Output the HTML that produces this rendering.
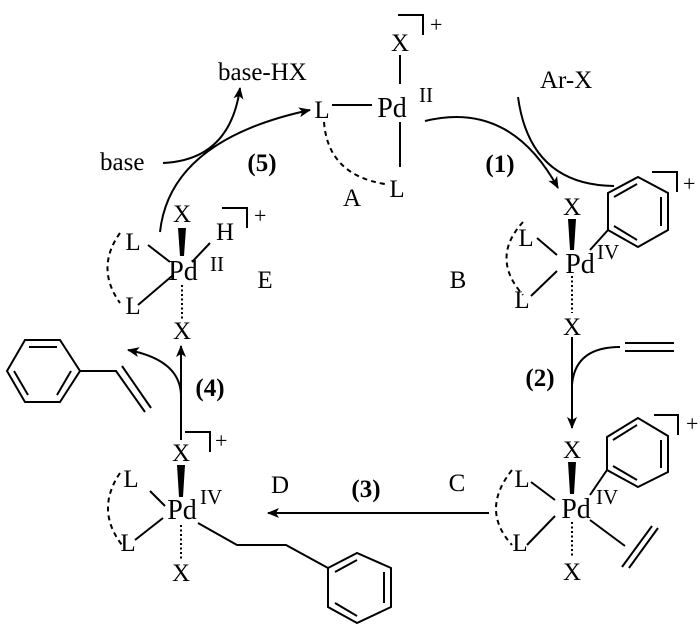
<!DOCTYPE html>
<html><head><meta charset="utf-8"><style>
html,body{margin:0;padding:0;background:#fff}
svg{display:block}
text{font-family:"Liberation Serif",serif;fill:#000}
.b{font-weight:bold}
.pd{font-size:28px}
.sup{font-size:21px}
.pl{font-size:22px}
</style></head><body>
<svg width="700" height="631" viewBox="0 0 700 631" xmlns="http://www.w3.org/2000/svg">
<defs>
<marker id="ar" markerWidth="12" markerHeight="10" refX="11" refY="5" orient="auto" markerUnits="userSpaceOnUse">
<path d="M0,0 L12,5 L0,10 L3,5 Z" fill="#000"/>
</marker>
</defs>
<g stroke="#000" stroke-width="2" fill="none">
<polyline points="398,15 423,15 423,35"/>
<line x1="400" y1="55" x2="400" y2="84"/>
<line x1="332" y1="105" x2="372" y2="105"/>
<line x1="400" y1="122" x2="400" y2="167"/>
<path d="M324,122 Q328,175 385,184" stroke-dasharray="5,4"/>
<path d="M425,121 Q510,100 558,188" marker-end="url(#ar)"/>
<path d="M518,97 Q530,185 614,186"/>
<polygon points="608,193 638,177 668,193 668,230 638,247 608,230"/>
<line x1="614" y1="197" x2="637" y2="184"/>
<line x1="661" y1="197" x2="661" y2="226"/>
<line x1="614" y1="226" x2="637" y2="240"/>
<polyline points="652,172 677,172 677,192"/>
<line x1="590" y1="250" x2="608" y2="230"/>
<line x1="537" y1="238" x2="557" y2="255"/>
<line x1="531" y1="296" x2="557" y2="271"/>
<path d="M523,222 Q490,258 523,295" stroke-dasharray="5,4"/>
<path d="M572,337 L572,428" marker-end="url(#ar)"/>
<path d="M572,385 Q575,347 620,347"/>
<line x1="625" y1="343" x2="674" y2="343"/>
<line x1="625" y1="351" x2="674" y2="351"/>
<polygon points="607,437 638,418 668,436 668,472 638,487 607,470"/>
<line x1="613" y1="440" x2="637" y2="425"/>
<line x1="661" y1="440" x2="661" y2="468"/>
<line x1="613" y1="466" x2="637" y2="480"/>
<polyline points="654,415 678,415 678,435"/>
<line x1="590" y1="495" x2="607" y2="470"/>
<line x1="531" y1="482" x2="555" y2="500"/>
<line x1="527" y1="545" x2="555" y2="516"/>
<line x1="590" y1="520" x2="625" y2="546"/>
<line x1="622" y1="567" x2="652" y2="526"/>
<line x1="629" y1="568" x2="658" y2="528"/>
<path d="M512,470 Q480,510 512,545" stroke-dasharray="5,4"/>
<path d="M489,513 L268,513" marker-end="url(#ar)"/>
<polyline points="185,432 210,432 210,452"/>
<line x1="150" y1="491" x2="165" y2="506"/>
<line x1="135" y1="540" x2="163" y2="518"/>
<polyline points="198,523 237,545 286,545 328,568"/>
<polygon points="328,568 357,553 391,568 391,607 357,623 328,607"/>
<line x1="335" y1="572" x2="357" y2="560"/>
<line x1="384" y1="572" x2="384" y2="603"/>
<line x1="335" y1="603" x2="357" y2="616"/>
<path d="M120,473 Q95,510 122,545" stroke-dasharray="5,4"/>
<path d="M181,440 L181,346" marker-end="url(#ar)"/>
<path d="M181,395 Q180,360 128,350" marker-end="url(#ar)"/>
<polygon points="7,371 25,340 60,340 80,371 60,402 25,402"/>
<line x1="29" y1="347" x2="57" y2="347"/>
<line x1="14" y1="371" x2="28" y2="395"/>
<line x1="57" y1="395" x2="71" y2="371"/>
<polyline points="80,371 116,371 145,412"/>
<line x1="122" y1="366" x2="151" y2="408"/>
<polyline points="222,208 247,208 247,228"/>
<line x1="148" y1="245" x2="170" y2="262"/>
<line x1="192" y1="262" x2="210" y2="243"/>
<line x1="138" y1="305" x2="172" y2="276"/>
<path d="M120,233 Q95,268 120,303" stroke-dasharray="5,4"/>
<path d="M160,232 Q170,140 310,110" marker-end="url(#ar)"/>
<path d="M163,163 Q230,160 240,88" marker-end="url(#ar)"/>
</g>
<g fill="#000">
<polygon points="568,219 576,219 574,250 570,250"/>
<polygon points="568,462 576,462 574,494 570,494"/>
<polygon points="177,465 185,465 183,497 179,497"/>
<polygon points="178,228 186,228 184,256 180,256"/>
</g>
<g stroke="#000" stroke-width="2" stroke-dasharray="2,2.5">
<line x1="572" y1="276" x2="572" y2="313"/>
<line x1="572" y1="522" x2="572" y2="557"/>
<line x1="181" y1="525" x2="181" y2="560"/>
<line x1="182" y1="285" x2="182" y2="320"/>
</g>
<g font-size="25">
<text x="400" y="51" text-anchor="middle">X</text>
<text x="430" y="32" class="pl">+</text>
<text x="392" y="117" text-anchor="middle" class="pd">Pd</text>
<text x="419" y="102" class="sup">II</text>
<text x="322" y="118" text-anchor="middle">L</text>
<text x="397" y="197" text-anchor="middle">L</text>
<text x="343" y="206">A</text>
<text x="540" y="88">Ar-X</text>
<text x="500" y="172" class="b" text-anchor="middle">(1)</text>
<text x="572" y="215" text-anchor="middle">X</text>
<text x="683" y="191" class="pl">+</text>
<text x="580" y="273" text-anchor="middle" class="pd">Pd</text>
<text x="597" y="259" class="sup">IV</text>
<text x="526" y="246" text-anchor="middle">L</text>
<text x="522" y="308" text-anchor="middle">L</text>
<text x="458" y="288" text-anchor="middle">B</text>
<text x="572" y="335" text-anchor="middle">X</text>
<text x="540" y="386" class="b" text-anchor="middle">(2)</text>
<text x="572" y="458" text-anchor="middle">X</text>
<text x="686" y="431" class="pl">+</text>
<text x="576" y="518" text-anchor="middle" class="pd">Pd</text>
<text x="596" y="504" class="sup">IV</text>
<text x="522" y="487" text-anchor="middle">L</text>
<text x="520" y="551" text-anchor="middle">L</text>
<text x="572" y="580" text-anchor="middle">X</text>
<text x="457" y="491" text-anchor="middle">C</text>
<text x="366" y="497" class="b" text-anchor="middle">(3)</text>
<text x="280" y="493" text-anchor="middle">D</text>
<text x="181" y="461" text-anchor="middle">X</text>
<text x="215" y="448" class="pl">+</text>
<text x="182" y="519" text-anchor="middle" class="pd">Pd</text>
<text x="200" y="504" class="sup">IV</text>
<text x="131" y="487" text-anchor="middle">L</text>
<text x="128" y="551" text-anchor="middle">L</text>
<text x="181" y="581" text-anchor="middle">X</text>
<text x="210" y="396" class="b" text-anchor="middle">(4)</text>
<text x="182" y="339" text-anchor="middle">X</text>
<text x="182" y="222" text-anchor="middle">X</text>
<text x="225" y="240" text-anchor="middle">H</text>
<text x="254" y="223" class="pl">+</text>
<text x="183" y="280" text-anchor="middle" class="pd">Pd</text>
<text x="210" y="271" class="sup">II</text>
<text x="133" y="250" text-anchor="middle">L</text>
<text x="133" y="314" text-anchor="middle">L</text>
<text x="265" y="288" text-anchor="middle">E</text>
<text x="262" y="171" class="b" text-anchor="middle">(5)</text>
<text x="100" y="170">base</text>
<text x="218" y="80">base-HX</text>
</g>
</svg>
</body></html>
